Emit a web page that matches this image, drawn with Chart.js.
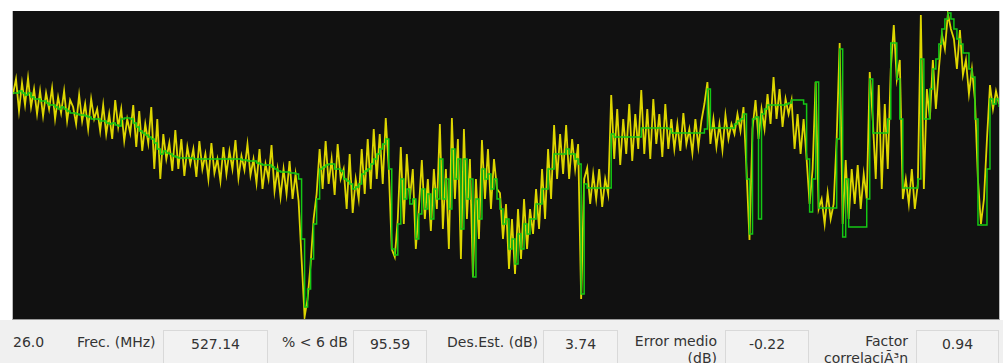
<!DOCTYPE html>
<html>
<head>
<meta charset="utf-8">
<script src="https://cdn.jsdelivr.net/npm/chart.js@4"></script>
<style>
  body { margin: 0; background: #fff; width: 1003px; height: 363px; overflow: hidden; position: relative; font-family: "DejaVu Sans", sans-serif; }
  #plot { position: absolute; left: 12px; top: 11px; width: 986px; height: 308px; background: #111; border-left: 1px solid #bbb; border-right: 1px solid #bbb; border-bottom: 1px solid #999; }
  #panel { position: absolute; left: 0; top: 320px; width: 1003px; height: 43px; background: #f0f0f0; color: #333; font-size: 14px; }
  .lbl { position: absolute; top: 14px; white-space: nowrap; }
  .two { position: absolute; top: 13px; text-align: right; line-height: 17px; white-space: nowrap; }
  .box { position: absolute; top: 10px; height: 40px; border: 1px solid #d9d9d9; background: #f2f2f2; text-align: center; line-height: 26px; }
</style>
</head>
<body>
<div id="plot"><canvas id="signalChart"></canvas></div>
<div id="panel">
  <div class="lbl" style="left:13px">26.0</div>
  <div class="lbl" style="left:77px">Frec. (MHz)</div>
  <div class="box" style="left:163px;width:103px">527.14</div>
  <div class="lbl" style="left:282px">% &lt; 6 dB</div>
  <div class="box" style="left:353px;width:72px">95.59</div>
  <div class="lbl" style="left:447px">Des.Est. (dB)</div>
  <div class="box" style="left:543px;width:73px">3.74</div>
  <div class="two" style="right:286px">Error medio<br>(dB)</div>
  <div class="box" style="left:725px;width:82px">-0.22</div>
  <div class="two" style="right:95px">Factor<br>correlaciÃ³n</div>
  <div class="box" style="left:916px;width:81px">0.94</div>
</div>
<script>
// level, one sample every ~3px
const predicted = [
  225,240,208,236,214,241,212,230,205,228,
  203,226,210,231,200,222,206,228,198,219,
  212,195,224,198,215,190,220,200,210,188,
  214,185,205,180,219,192,210,178,200,186,
  214,172,208,168,195,176,212,150,200,140,
  185,160,176,148,189,150,180,143,172,155,
  170,142,178,150,165,140,176,146,160,138,
  172,145,168,150,179,141,163,149,175,144,
  160,136,170,130,155,140,174,128,150,122,
  150,125,158,120,145,118,
  60,2,20,55,100,125,
  170,130,178,135,160,124,175,140,
  150,110,165,106,140,120,
  170,125,180,130,190,140,
  185,135,201,150,
  70,62,100,
  172,95,165,120,150,70,110,
  159,100,140,88,150,110,
  195,90,150,70,201,120,180,60,190,100,160,42,140,80,
  179,120,170,110,160,130,
  126,80,115,50,100,45,110,60,120,70,
  110,85,130,90,150,100,170,120,194,140,
  185,145,194,140,180,150,175,
  20,140,
  151,115,145,120,150,112,140,125,
  224,160,210,154,200,165,215,158,205,170,
  229,165,210,160,220,175,205,162,215,170,
  200,170,195,168,206,175,190,166,200,172,198,215,
  237,175,
  200,172,195,169,204,180,
  195,185,205,188,212,
  150,79,190,219,180,
  210,190,225,195,242,200,230,192,220,205,
  219,170,205,165,200,
  160,115,150,237,110,
  120,95,126,100,115,
  180,276,95,159,100,
  150,115,154,110,145,120,
  247,200,140,234,130,215,
  150,250,294,240,259,120,
  140,115,150,110,135,
  304,130,
  230,200,259,210,250,
  285,270,305,290,
  280,250,289,244,
  259,225,250,219,
  139,95,120,
  180,234,210,228,215
];

const measured = [
  226,226,228,226,224,226,222,220,220,218,
  218,216,214,214,212,210,212,210,208,206,
  206,205,204,204,203,202,200,200,200,198,
  198,196,195,196,194,193,200,201,201,200,
  196,192,188,186,184,182,180,176,170,165,
  168,166,165,163,162,161,161,161,161,161,
  160,160,160,160,160,160,160,160,160,160,
  160,160,160,160,160,160,159,159,158,158,
  158,156,155,154,154,154,152,150,148,147,
  147,147,146,146,145,140,
  80,12,30,60,95,120,
  150,152,154,155,155,150,150,148,
  140,138,135,130,132,135,
  145,148,150,155,160,165,
  170,175,180,150,
  70,64,95,
  140,120,130,115,120,80,105,
  130,110,125,100,130,120,
  160,120,140,110,170,140,160,90,160,120,140,42,120,100,
  150,140,145,130,140,120,
  110,95,100,70,80,55,85,70,95,85,
  100,100,115,115,130,130,150,150,165,165,
  165,165,170,165,165,160,155,
  25,135,
  131,131,131,131,131,131,131,131,
  185,182,182,182,182,182,182,182,182,182,
  191,191,191,191,191,191,191,191,191,190,
  186,186,186,186,186,186,186,186,186,186,186,190,
  230,191,
  191,191,191,191,191,191,
  191,195,198,200,205,
  140,85,200,202,100,
  205,210,214,214,214,214,214,214,215,216,
  219,219,219,219,215,
  160,107,140,237,111,
  111,111,111,111,111,
  180,270,82,140,92,
  92,92,92,92,92,120,
  240,186,186,186,186,186,
  200,276,276,240,200,131,
  131,131,131,131,140,
  260,200,
  200,230,250,260,275,
  290,300,306,300,
  290,280,275,266,
  266,250,242,200,
  94,94,94,
  150,220,215,220,212
];

const samples = predicted.map((v, i) => i);

const config = {
  type: 'line',
  data: {
    labels: samples,
    datasets: [
      {
        label: 'medido',
        data: measured,
        borderColor: 'rgb(20,200,20)',
        borderWidth: 1.5,
        pointRadius: 0,
        stepped: true,
        order: 0
      },
      {
        label: 'predicho',
        data: predicted,
        borderColor: 'rgb(222,214,0)',
        borderWidth: 1.8,
        pointRadius: 0,
        tension: 0,
        order: 1
      }
    ]
  },
  options: {
    responsive: true,
    maintainAspectRatio: false,
    animation: false,
    layout: { padding: 0 },
    plugins: { legend: { display: false }, tooltip: { enabled: false } },
    scales: {
      x: { display: false, offset: false },
      y: { display: false, min: 0, max: 308 }
    }
  }
};

const ctx = document.getElementById('signalChart').getContext('2d');
const myChart = new Chart(ctx, config);
</script>
</body>
</html>
